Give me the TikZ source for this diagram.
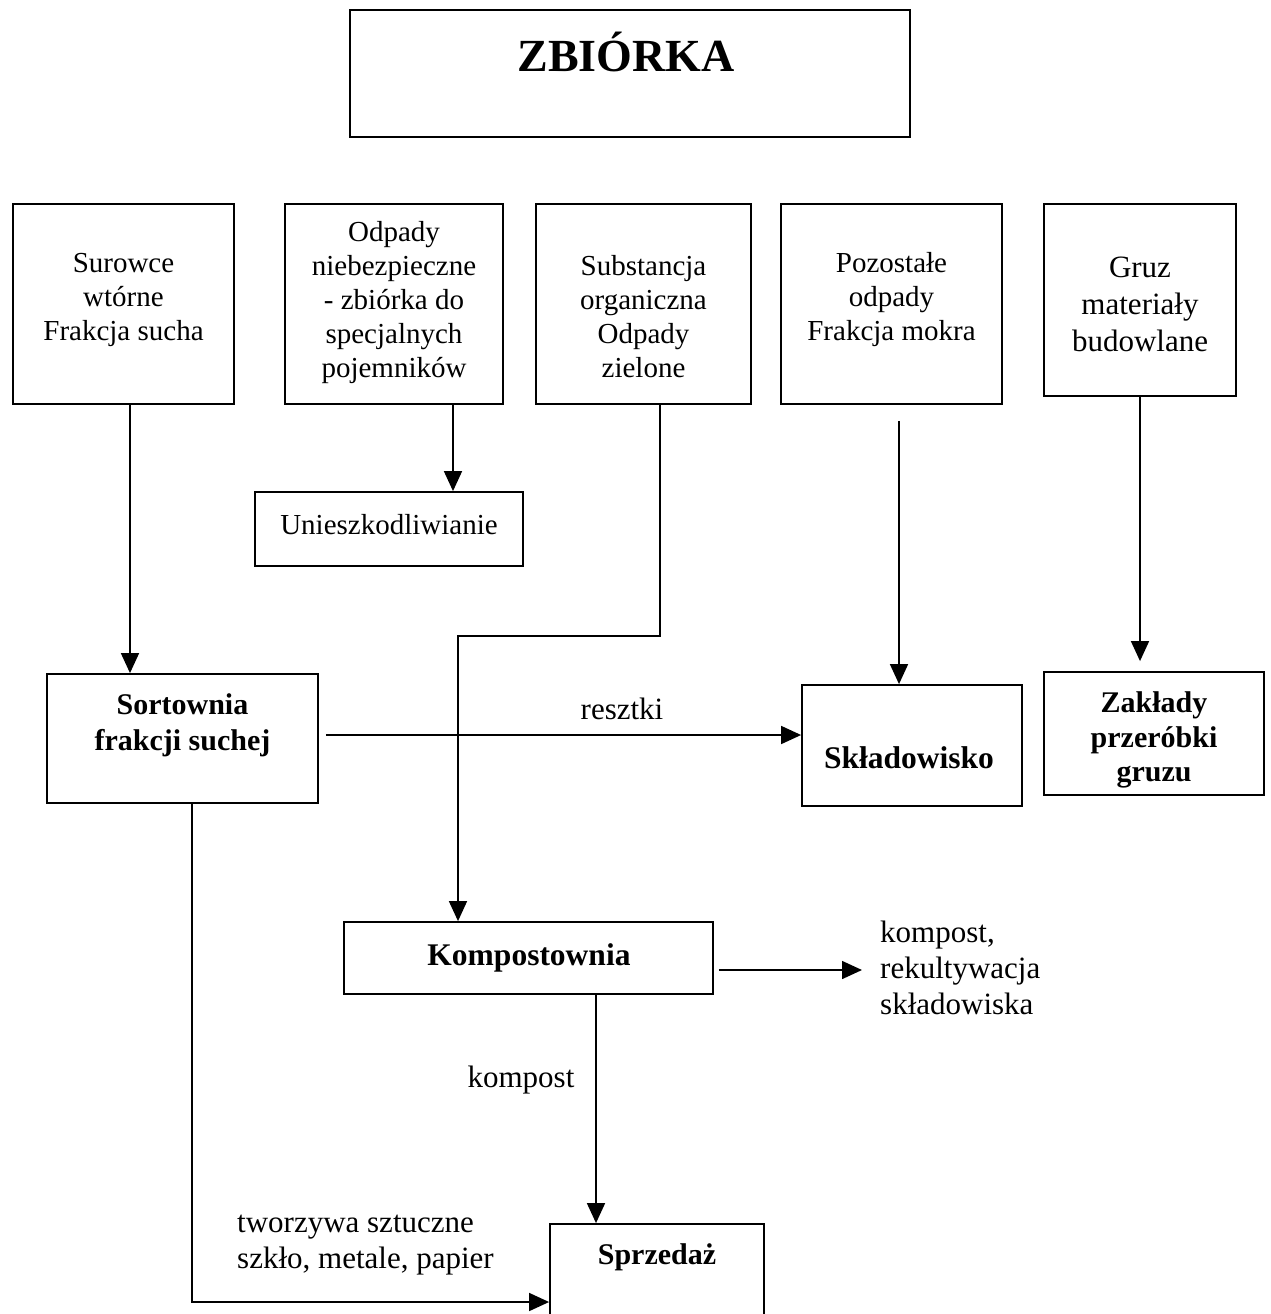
\documentclass[tikz,border=0pt]{standalone}
\usepackage{fontspec}
\setmainfont{Liberation Serif}
\usetikzlibrary{arrows.meta,calc}
\newcommand\ftop{\fontsize{29}{34}\selectfont}
\newcommand\fgruz{\fontsize{31}{37}\selectfont}
\newcommand\flab{\fontsize{31}{36}\selectfont}
\newcommand\fbold{\fontsize{30}{36}\selectfont\bfseries}
\newcommand\fbig{\fontsize{31.5}{36}\selectfont\bfseries}
\begin{document}
\begin{tikzpicture}[x=1pt,y=-1pt,
  box/.style={draw,line width=1.8pt,inner sep=0pt},
  txt/.style={align=center,inner sep=0pt,yshift=-3pt},
  ltxt/.style={align=left,inner sep=0pt,yshift=-2pt},
  arr/.style={line width=1.6pt,-{Triangle[length=20pt,width=18pt]}},
]
\useasboundingbox (0,0) rectangle (1270,1314);
\clip (0,0) rectangle (1270,1314);

% boxes
\node[box,minimum width=560pt,minimum height=127pt] (title) at (630,73.5) {};
\node[box,minimum width=221pt,minimum height=200pt] (sur) at (123.5,304) {};
\node[box,minimum width=218pt,minimum height=200pt] (odp) at (394,304) {};
\node[box,minimum width=215pt,minimum height=200pt] (sub) at (643.5,304) {};
\node[box,minimum width=221pt,minimum height=200pt] (poz) at (891.5,304) {};
\node[box,minimum width=192pt,minimum height=192pt] (gruz) at (1140,300) {};
\node[box,minimum width=268pt,minimum height=74pt] (un) at (389,529) {};
\node[box,minimum width=271pt,minimum height=129pt] (sort) at (182.5,738.5) {};
\node[box,minimum width=220pt,minimum height=121pt] (skl) at (912,745.5) {};
\node[box,minimum width=220pt,minimum height=123pt] (zak) at (1154,733.5) {};
\node[box,minimum width=369pt,minimum height=72pt] (komp) at (528.5,958) {};
\node[box,minimum width=214pt,minimum height=116pt] (sprz) at (657,1282) {};

% texts
\node[inner sep=0pt,font=\fontsize{46}{50}\selectfont\bfseries] (tTitle) at (626,52) {ZBIÓRKA};
\node[txt,font=\ftop] (tSur) at (123.5,297) {Surowce\\wtórne\\Frakcja sucha};
\node[txt,font=\ftop] (tOdp) at (394,300) {Odpady\\niebezpieczne\\- zbiórka do\\specjalnych\\pojemników};
\node[txt,font=\ftop] (tSub) at (643.5,313.5) {Substancja\\organiczna\\Odpady\\zielone};
\node[txt,font=\ftop] (tPoz) at (891.5,297) {Pozostałe\\odpady\\Frakcja mokra};
\node[txt,font=\fgruz] (tGruz) at (1140,301) {Gruz\\materiały\\budowlane};
\node[txt,font=\ftop] (tUn) at (389,522) {Unieszkodliwianie};
\node[txt,font=\fbold] (tSort) at (182.5,722) {Sortownia\\frakcji suchej};
\node[txt,font=\fbig] (tSkl) at (909,755) {Składowisko};
\node[txt,font=\fontsize{30}{34.5}\selectfont\bfseries] (tZak) at (1154,737) {Zakłady\\przeróbki\\gruzu};
\node[txt,font=\fbig] (tKomp) at (529,955) {Kompostownia};
\node[txt,font=\fbold] (tSprz) at (657,1254) {Sprzedaż};
\node[txt,font=\flab] (lRes) at (622,706) {resztki};
\node[txt,font=\flab] (lKomp) at (521,1077) {kompost};
\node[ltxt,font=\flab,anchor=west] (lRek) at (880,966) {kompost,\\rekultywacja\\składowiska};
\node[ltxt,font=\flab,anchor=west] (lTw) at (237,1243) {tworzywa sztuczne\\szkło, metale, papier};

% helper coordinates
\coordinate (a1) at ([xshift=6.5pt]sur.south);
\coordinate (a2) at ([xshift=59pt]odp.south);
\coordinate (a3) at ([xshift=16.5pt]sub.south);
\coordinate (bend3) at (0,636);
\coordinate (k3) at ([xshift=-70.5pt]komp.north);
\coordinate (a4) at ([xshift=7.5pt,yshift=-16pt]poz.south);
\coordinate (y735) at (0,735);
\coordinate (x192) at (192,0);
\coordinate (y1302) at (0,1302);
\coordinate (x596) at (596,0);
\coordinate (y970) at (0,970);

% connectors
\draw[arr] (a1) -- (a1 |- sort.north);
\draw[arr] (a2) -- (a2 |- un.north);
\draw[arr] (a3) -- (a3 |- bend3) -| (k3);
\draw[arr] (a4) -- (a4 |- skl.north);
\draw[arr,shorten >=10pt] (gruz.south) -- (gruz.south |- zak.north);
\draw[arr,shorten <=7pt] (sort.east |- y735) -- (skl.west |- y735);
\draw[arr] (x192 |- sort.south) -- (x192 |- y1302) -- (sprz.west |- y1302);
\draw[arr] (x596 |- komp.south) -- (x596 |- sprz.north);
\draw[arr,shorten <=5pt,shorten >=18pt] (komp.east |- y970) -- (lRek.west |- y970);
\end{tikzpicture}
\end{document}
